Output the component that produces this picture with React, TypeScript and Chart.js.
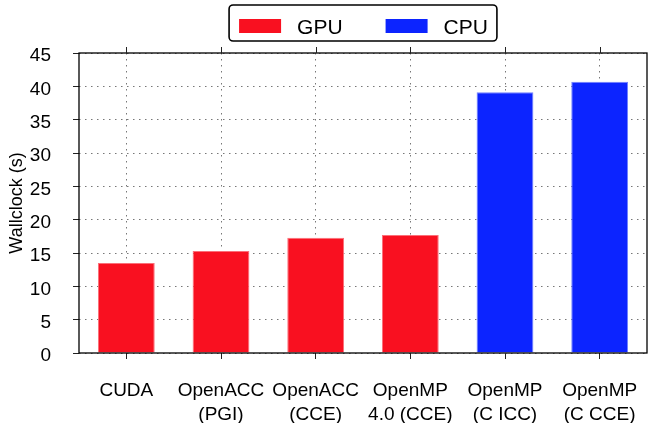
import { useEffect, useRef } from 'react';
import { Chart, registerables } from 'chart.js';

Chart.register(...registerables);

const categories: string[][] = [
  ['CUDA'],
  ['OpenACC', '(PGI)'],
  ['OpenACC', '(CCE)'],
  ['OpenMP', '4.0 (CCE)'],
  ['OpenMP', '(C ICC)'],
  ['OpenMP', '(C CCE)'],
];
const gpuValues: (number | null)[] = [13.5, 15.3, 17.3, 17.7, null, null];
const cpuValues: (number | null)[] = [null, null, null, null, 39.1, 40.7];
const yTickValues: number[] = [0, 5, 10, 15, 20, 25, 30, 35, 40, 45];
const seriesLabels = ['GPU', 'CPU'];
const seriesColors = ['#f91020', '#0c24ff'];
const seriesBorders = ['#fb6f78', '#7080ff'];

const FONT = '"Liberation Sans", Arial, Helvetica, sans-serif';

const framePlugin = {
  id: 'frameAndLegend',
  afterDatasetsDraw(chart: any) {
    const { ctx, chartArea } = chart;
    const { left, right, top, bottom } = chartArea;
    ctx.save();
    ctx.strokeStyle = '#000';
    ctx.lineWidth = 1.3;
    ctx.setLineDash([]);
    ctx.strokeRect(left, top, right - left, bottom - top);
    const xs = chart.scales.x;
    ctx.lineWidth = 1;
    ctx.strokeStyle = '#222';
    for (let i = 0; i < categories.length; i++) {
      const px = Math.round(xs.getPixelForValue(i)) + 0.5;
      ctx.beginPath();
      ctx.moveTo(px, top);
      ctx.lineTo(px, top - 6);
      ctx.stroke();
    }
    ctx.restore();
  },
  afterDraw(chart: any) {
    const { ctx, chartArea } = chart;
    ctx.save();
    ctx.font = `21px ${FONT}`;
    const padL = 10, padR = 9, sw = 42, sh = 14, gap = 16, itemGap = 43;
    const widths = seriesLabels.map((l) => ctx.measureText(l).width);
    let total = padL + padR;
    widths.forEach((w, i) => {
      total += sw + gap + w + (i > 0 ? itemGap : 0);
    });
    const cx = (chartArea.left + chartArea.right) / 2;
    const bx = cx - total / 2;
    const by = 5;
    const bh = 36;
    const r = 4;
    ctx.beginPath();
    ctx.moveTo(bx + r, by);
    ctx.arcTo(bx + total, by, bx + total, by + bh, r);
    ctx.arcTo(bx + total, by + bh, bx, by + bh, r);
    ctx.arcTo(bx, by + bh, bx, by, r);
    ctx.arcTo(bx, by, bx + total, by, r);
    ctx.closePath();
    ctx.fillStyle = '#fff';
    ctx.fill();
    ctx.lineWidth = 1.6;
    ctx.strokeStyle = '#000';
    ctx.stroke();
    let x = bx + padL;
    seriesLabels.forEach((label, i) => {
      if (i > 0) x += itemGap;
      ctx.fillStyle = seriesColors[i];
      ctx.fillRect(x, 19, sw, sh);
      x += sw + gap;
      ctx.fillStyle = '#000';
      ctx.textBaseline = 'alphabetic';
      ctx.textAlign = 'left';
      ctx.fillText(label, x, 33.5);
      x += widths[i];
    });
    ctx.restore();
  },
};

export default function App() {
  const canvasRef = useRef<HTMLCanvasElement | null>(null);

  useEffect(() => {
    const canvas = canvasRef.current;
    if (!canvas) return;
    const gridCommon = {
      color: '#777',
      lineWidth: 1,
      tickColor: '#222',
      tickBorderDash: [],
      tickLength: 6,
      drawTicks: true,
    };
    const borderCommon = { display: false, dash: [1.5, 4.5] };
    const chart = new Chart(canvas, {
      type: 'bar',
      data: {
        labels: categories,
        datasets: [
          {
            label: seriesLabels[0],
            data: gpuValues,
            backgroundColor: seriesColors[0],
            borderColor: seriesBorders[0],
            borderWidth: 1,
            grouped: false,
          },
          {
            label: seriesLabels[1],
            data: cpuValues,
            backgroundColor: seriesColors[1],
            borderColor: seriesBorders[1],
            borderWidth: 1,
            grouped: false,
          },
        ],
      } as any,
      options: {
        animation: false,
        responsive: true,
        maintainAspectRatio: false,
        datasets: { bar: { categoryPercentage: 1, barPercentage: 0.6 } },
        layout: { padding: { top: 53, right: 1, left: 0, bottom: 0 } },
        plugins: {
          legend: { display: false },
          tooltip: { enabled: false },
        },
        scales: {
          x: {
            offset: true,
            grid: { ...gridCommon, offset: false },
            border: borderCommon,
            ticks: {
              color: '#000',
              font: { family: FONT, size: 19, lineHeight: 1.25 },
              padding: 20,
              maxRotation: 0,
              autoSkip: false,
            },
            afterFit(scale: any) {
              scale.height = 70;
              scale.paddingLeft = 0;
              scale.paddingRight = 0;
            },
          },
          y: {
            min: 0,
            max: 45,
            afterBuildTicks(scale: any) {
              scale.ticks = yTickValues.map((v) => ({ value: v }));
            },
            grid: gridCommon,
            border: borderCommon,
            ticks: {
              color: '#000',
              font: { family: FONT, size: 19 },
              padding: 22,
              labelOffset: 3,
            },
            title: {
              display: true,
              text: 'Wallclock (s)',
              color: '#000',
              font: { family: FONT, size: 18 },
              padding: { top: 6, bottom: 0 },
            },
            afterFit(scale: any) {
              scale.width = 79;
              scale.paddingTop = 0;
              scale.paddingBottom = 0;
            },
          },
        },
      } as any,
      plugins: [framePlugin],
    });
    return () => chart.destroy();
  }, []);

  return (
    <div style={{ position: 'fixed', left: 0, top: 0, width: 648, height: 423, background: '#fff' }}>
      <canvas ref={canvasRef} />
    </div>
  );
}
